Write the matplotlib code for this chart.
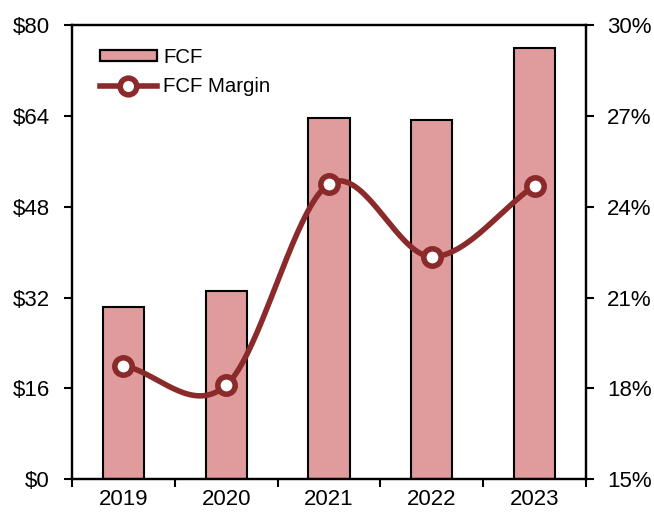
import numpy as np
import matplotlib.pyplot as plt
from matplotlib.lines import Line2D
from matplotlib.patches import Patch

plt.rcParams['font.family'] = ['Liberation Sans', 'DejaVu Sans']

years = ['2019', '2020', '2021', '2022', '2023']
fcf = [30.4, 33.1, 63.7, 63.2, 75.9]
fcf_margin = [18.75, 18.1, 24.75, 22.35, 24.7]

bar_color = '#E09C9C'
line_color = '#8B2A2A'


def smooth(xs, ys, n=40):
    # Catmull-Rom curve through the points, like a spreadsheet "smoothed line"
    xs = np.asarray(xs, float)
    ys = np.asarray(ys, float)
    px = np.concatenate([[2 * xs[0] - xs[1]], xs, [2 * xs[-1] - xs[-2]]])
    py = np.concatenate([[2 * ys[0] - ys[1]], ys, [2 * ys[-1] - ys[-2]]])
    out_x, out_y = [], []
    for i in range(1, len(px) - 2):
        t = np.linspace(0, 1, n)
        for p, out in ((px, out_x), (py, out_y)):
            p0, p1, p2, p3 = p[i - 1], p[i], p[i + 1], p[i + 2]
            out.extend(0.5 * ((2 * p1) + (-p0 + p2) * t
                              + (2 * p0 - 5 * p1 + 4 * p2 - p3) * t ** 2
                              + (-p0 + 3 * p1 - 3 * p2 + p3) * t ** 3))
    return np.array(out_x), np.array(out_y)


fig = plt.figure(figsize=(6.54, 5.14), dpi=100)
ax = fig.add_axes([0.110, 0.068, 0.786, 0.883])
x = np.arange(len(years))
ax.bar(x, fcf, width=0.4, color=bar_color, edgecolor='black', linewidth=1.5, zorder=2)
ax.set_xlim(-0.5, len(years) - 0.5)
ax.set_ylim(0, 80)
ax.set_yticks(np.arange(0, 81, 16))
ax.set_yticklabels([f'${v}' for v in range(0, 81, 16)])
ax.set_xticks(x)
ax.set_xticklabels(years)
ax.set_xticks(np.arange(-0.5, len(years), 1), minor=True)
ax.tick_params(axis='x', which='major', length=0, labelsize=16, pad=7)
ax.tick_params(axis='x', which='minor', length=6, width=1.5, direction='out')
ax.tick_params(axis='y', length=6, width=1.5, direction='out', labelsize=16, pad=10)

ax2 = ax.twinx()
ax2.set_ylim(15, 30)
ax2.set_yticks(np.arange(15, 31, 3))
ax2.set_yticklabels([f'{v}%' for v in range(15, 31, 3)])
ax2.tick_params(axis='y', length=6, width=1.5, direction='out', labelsize=16, pad=9)

sx, sy = smooth(x, fcf_margin)
ax2.plot(sx, sy, color=line_color, linewidth=4.0, solid_capstyle='round', zorder=3)
ax2.plot(x, fcf_margin, linestyle='none', marker='o', markersize=12.5,
         markerfacecolor='white', markeredgecolor=line_color, markeredgewidth=4, zorder=4)

for a in (ax, ax2):
    for s in a.spines.values():
        s.set_linewidth(1.6)

handles = [
    Patch(facecolor=bar_color, edgecolor='black', linewidth=1.6, label='FCF'),
    Line2D([0], [0], color=line_color, linewidth=4.0, marker='o', markersize=12,
           markerfacecolor='white', markeredgecolor=line_color, markeredgewidth=4,
           label='FCF Margin'),
]
ax.legend(handles=handles, loc='upper left', bbox_to_anchor=(0.054, 0.95), frameon=False,
          fontsize=14.7, handlelength=2.8, handleheight=0.5, handletextpad=0.3,
          labelspacing=0.5, borderaxespad=0, borderpad=0)

fig.savefig('out.png', dpi=100)
